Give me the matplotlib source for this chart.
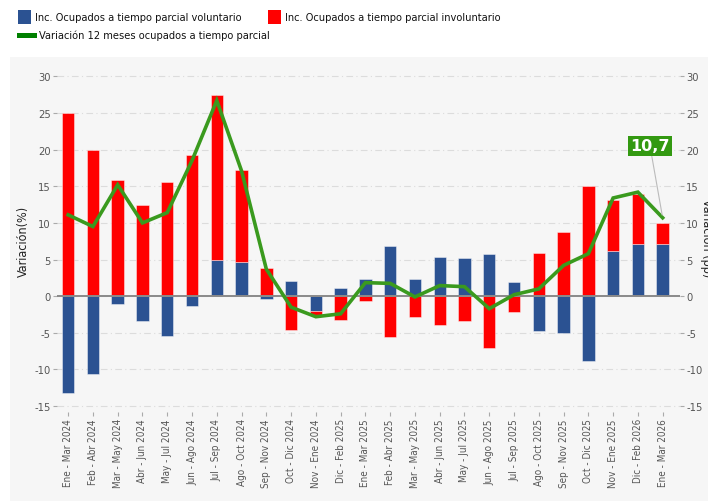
import matplotlib
matplotlib.use("Agg")
import matplotlib.pyplot as plt
from matplotlib import font_manager as fm
import numpy as np
from matplotlib.patches import Rectangle

categories = ["Ene - Mar 2024", "Feb - Abr 2024", "Mar - May 2024", "Abr - Jun 2024",
              "May - Jul 2024", "Jun - Ago 2024", "Jul - Sep 2024", "Ago - Oct 2024",
              "Sep - Nov 2024", "Oct - Dic 2024", "Nov - Ene 2024", "Dic - Feb 2025",
              "Ene - Mar 2025", "Feb - Abr 2025", "Mar - May 2025", "Abr - Jun 2025",
              "May - Jul 2025", "Jun - Ago 2025", "Jul - Sep 2025", "Ago - Oct 2025",
              "Sep - Nov 2025", "Oct - Dic 2025", "Nov - Ene 2025", "Dic - Feb 2026",
              "Ene - Mar 2026"]
voluntario = [-13.2, -10.6, -1.1, -3.4, -5.45, -1.3, 5.0, 4.6, -0.4, 2.1, -2.0, 1.15,
              2.4, 6.8, 2.4, 5.3, 5.2, 5.7, 2.0, -4.8, -5.0, -8.8, 6.1, 7.1, 7.1]
involuntario = [25.0, 20.0, 15.8, 12.5, 15.6, 19.3, 22.5, 12.6, 3.8, -4.6, -0.6, -3.2,
                -0.6, -5.6, -2.8, -3.9, -3.4, -7.0, -2.2, 5.9, 8.8, 15.1, 7.0, 6.8, 2.9]
variacion = [11.1, 9.5, 15.2, 10.0, 11.4, 18.5, 26.7, 17.1, 3.7, -1.5, -2.8, -2.4,
             1.85, 1.75, -0.1, 1.45, 1.3, -1.7, 0.2, 1.0, 4.2, 5.8, 13.4, 14.2, 10.7]
yticks = [-15, -10, -5, 0, 5, 10, 15, 20, 25, 30]

# condensed font if available
cond = [f for f in fm.fontManager.ttflist
        if f.name == "DejaVu Sans" and "ondensed" in str(f.stretch)]
if not cond:
    cond = [f for f in fm.fontManager.ttflist if "Condensed" in f.name or "Narrow" in f.name]
COND = None
if cond:
    COND = fm.FontProperties(fname=cond[0].fname)
    for f in cond:
        if "Bold" not in f.fname and "Oblique" not in f.fname and "Italic" not in f.fname:
            COND = fm.FontProperties(fname=f.fname)
            break

def fp(size):
    if COND is not None:
        p = COND.copy()
        p.set_size(size)
        return p
    return fm.FontProperties(family="Roboto", size=size * 0.9)

BLUE = "#2b5292"
RED = "#ff0000"
GREEN = "#3a9a1e"
PANEL = "#f6f6f6"
TXT = "#555555"

fig = plt.figure(figsize=(7.08, 5.02), dpi=100)
fig.patch.set_facecolor("white")
fig.add_artist(Rectangle((10/708, 0), 698/708, (502-58)/502, transform=fig.transFigure,
                         facecolor=PANEL, edgecolor="none", zorder=0))

ax = fig.add_axes([57/708, (502-413)/502, (680-57)/708, (413-70)/502])
ax.set_facecolor(PANEL)
x = np.arange(len(categories))
v = np.array(voluntario)
r = np.array(involuntario)
pos_base = np.zeros(len(x))
neg_base = np.zeros(len(x))
for vals, col in [(v, BLUE), (r, RED)]:
    bottoms = np.where(vals >= 0, pos_base, neg_base)
    ax.bar(x, vals, width=0.5, bottom=bottoms, color=col, edgecolor=(1, 1, 1, 0.5),
           linewidth=0.6, zorder=3)
    pos_base = pos_base + np.where(vals >= 0, vals, 0)
    neg_base = neg_base + np.where(vals < 0, vals, 0)

ax.plot(x, variacion, color=GREEN, lw=2.6, zorder=5, solid_joinstyle="miter")
ax.axhline(0, color="#8a8a8a", lw=1.4, zorder=4)

ax.set_xlim(-0.45, 24.7)
ax.set_ylim(-15.8, 31)
ax.set_yticks(yticks)
ax.set_yticklabels([str(t) for t in yticks], fontproperties=fp(8), color=TXT)
ax.grid(axis="y", color="#dcdcdc", lw=0.8, linestyle=(0, (6, 3, 1, 3)), zorder=1)
ax.set_axisbelow(True)
for s in ax.spines.values():
    s.set_visible(False)
ax.set_xticks(x)
ax.set_xticklabels(categories, rotation=90, fontproperties=fp(7.1), color=TXT)
ax.tick_params(axis="x", length=3, color="#aaaaaa", pad=1.5, direction="out")
ax.tick_params(axis="y", length=3, color="#aaaaaa", pad=1.5)
ax.set_ylabel("Variación(%)", fontproperties=fp(9), color="#222222", labelpad=3)

ax2 = ax.twinx()
ax2.set_ylim(ax.get_ylim())
ax2.set_yticks(yticks)
ax2.set_yticklabels([str(t) for t in yticks], fontproperties=fp(8), color=TXT)
ax2.tick_params(axis="y", length=3, color="#aaaaaa", pad=1.5)
for s in ax2.spines.values():
    s.set_visible(False)
fig.text(706/708, 1 - 238/502, "Variación (pp)", rotation=270, fontproperties=fp(9),
         color="#222222", ha="center", va="center")

# annotation for last value
last = len(x) - 1
ax.annotate(f"{variacion[-1]:.1f}".replace(".", ","), xy=(x[last], variacion[last]),
            xytext=(650/708, 1 - 147/502), textcoords="figure fraction",
            ha="center", va="center", fontsize=11.5, fontweight="bold", color="white",
            bbox=dict(boxstyle="square,pad=0.15", fc="#339911", ec="none"),
            arrowprops=dict(arrowstyle="-", color="#bbbbbb", lw=0.8,
                            shrinkA=0, shrinkB=2), zorder=10)

# legend
lf = fp(7.9)
fig.add_artist(Rectangle((18/708, 1 - 25/502), 13/708, 14/502, transform=fig.transFigure,
                         facecolor=BLUE, edgecolor="none"))
fig.text(35/708, 1 - 18/502, "Inc. Ocupados a tiempo parcial voluntario", fontproperties=lf,
         va="center", ha="left", color="#111111")
fig.add_artist(Rectangle((268/708, 1 - 25/502), 13/708, 14/502, transform=fig.transFigure,
                         facecolor=RED, edgecolor="none"))
fig.text(285/708, 1 - 18/502, "Inc. Ocupados a tiempo parcial involuntario", fontproperties=lf,
         va="center", ha="left", color="#111111")
fig.add_artist(Rectangle((17/708, 1 - 39/502), 20/708, 5/502, transform=fig.transFigure,
                         facecolor="#008000", edgecolor="none"))
fig.text(39/708, 1 - 36/502, "Variación 12 meses ocupados a tiempo parcial", fontproperties=lf,
         va="center", ha="left", color="#111111")

fig.savefig("out.png", dpi=100)
